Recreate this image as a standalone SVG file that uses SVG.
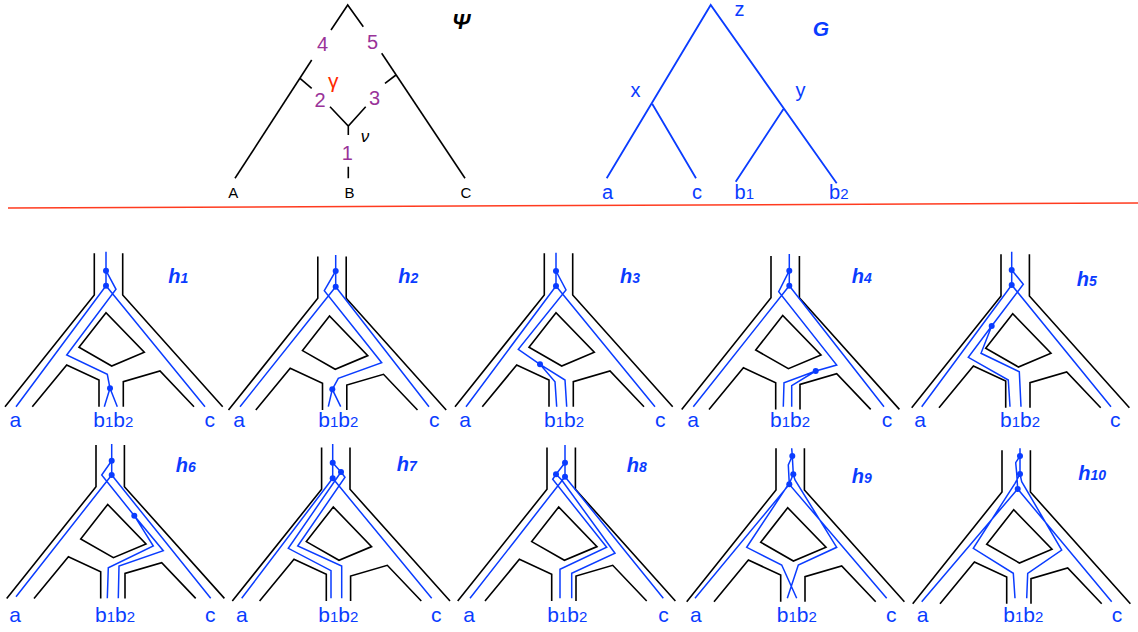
<svg xmlns="http://www.w3.org/2000/svg" xmlns:xlink="http://www.w3.org/1999/xlink" width="1138" height="632" viewBox="0 0 1138 632">
<style>
.k{stroke:#000;stroke-width:1.6;fill:none}
.b{stroke:#0a3cff;stroke-width:1.5;fill:none;stroke-linejoin:miter}
.bt{stroke:#0a3cff;stroke-width:1.8;fill:none}
.d{fill:#0a3cff}
.t{font-family:'Liberation Sans',Arial,sans-serif;fill:#0a3cff;font-size:21px}
.s{font-size:15px}
.h{font-family:'Liberation Sans',Arial,sans-serif;fill:#0a3cff;font-weight:bold;font-style:italic;font-size:20px}
.hs{font-size:14px}
.p{font-family:'Liberation Sans',Arial,sans-serif;fill:#993399;font-size:20px}
.n{font-family:'Liberation Sans',Arial,sans-serif;fill:#000;font-size:16px}
</style>
<defs>
<g id="net">
<path class="k" d="M94.3,253.3 V295 L5,406.7"/>
<path class="k" d="M122.7,253.3 V295 L222.7,406.7"/>
<path class="k" d="M32.3,406.7 L66.7,365 L99,380 V406.7"/>
<path class="k" d="M123.3,406.7 V381.7 L160,371 L194,406.7"/>
<path class="k" d="M106,312.7 L79,347.3 L111.7,366 L144.3,352.3 Z"/>
</g>
</defs>
<rect width="1138" height="632" fill="#fff"/>

<g id="psi">
<path class="k" d="M331,30 L347.7,5 L363.3,26.7"/>
<path class="k" d="M311.7,60 L235,178.3"/>
<path class="k" d="M381.7,53.3 L465,178.3"/>
<path class="k" d="M300,78.3 L311.7,88.3"/>
<path class="k" d="M396,75 L385,83.3"/>
<path class="k" d="M330,106.7 L348.3,126 L365.7,106.7 M348.3,126 V135 M348.3,166.7 V178.3"/>
<text class="p" x="322.5" y="50.7" text-anchor="middle">4</text>
<text class="p" x="372.5" y="49.3" text-anchor="middle">5</text>
<text class="p" x="333.3" y="88" text-anchor="middle" style="fill:#ff2a00;font-size:21px">γ</text>
<text class="p" x="320" y="107.3" text-anchor="middle">2</text>
<text class="p" x="374.5" y="105" text-anchor="middle">3</text>
<text class="p" x="347.2" y="160" text-anchor="middle">1</text>
<text class="n" x="365" y="141.7" text-anchor="middle" style="font-style:italic;font-size:17px">ν</text>
<text class="n" x="233.3" y="198" text-anchor="middle" style="font-size:15px">A</text>
<text class="n" x="349.5" y="198" text-anchor="middle" style="font-size:15px">B</text>
<text class="n" x="466" y="198" text-anchor="middle" style="font-size:15px">C</text>
<text class="n" x="461" y="29" text-anchor="middle" style="font-weight:bold;font-style:italic;font-size:22px">Ψ</text>
</g>

<g id="G">
<path class="bt" d="M606.7,178.3 L710.7,5 L836.7,183.3 M652.3,104 L696,178.3 M783.3,109.3 L735.7,181.7"/>
<text class="t" x="739.5" y="16" text-anchor="middle" style="font-size:20px">z</text>
<text class="t" x="635.5" y="97" text-anchor="middle" style="font-size:20px">x</text>
<text class="t" x="800.5" y="97" text-anchor="middle" style="font-size:20px">y</text>
<text class="h" x="821" y="36" text-anchor="middle" style="font-size:21px">G</text>
<text class="t" x="607.5" y="199" text-anchor="middle" style="font-size:20px">a</text>
<text class="t" x="697" y="199" text-anchor="middle" style="font-size:20px">c</text>
<text class="t" x="734.5" y="199" style="font-size:20px">b<tspan class="s">1</tspan></text>
<text class="t" x="829" y="199" style="font-size:20px">b<tspan class="s">2</tspan></text>
</g>

<line id="sep" x1="8" y1="208" x2="1138" y2="203" stroke="#ff3b1f" stroke-width="1.5"/>

<g id="h1">
<use xlink:href="#net" href="#net"/>
<path class="b" d="M106,251.7 V285.7 M106,270.7 L116,289.3 L66.7,355 L107.3,374.3 L110,388.3 M104.3,406.7 L110,388.3 L117.3,406.7 M16,406.7 L106,285.7 L205,406.7"/>
<circle class="d" cx="106" cy="270.7" r="3"/><circle class="d" cx="106" cy="285.7" r="3"/><circle class="d" cx="110" cy="388.3" r="3"/>
<text class="h" x="168.3" y="283">h<tspan class="hs">1</tspan></text>
<text class="t" x="9.5" y="427.3">a</text>
<text class="t" x="93.3" y="427.3">b<tspan class="s">1</tspan>b<tspan class="s">2</tspan></text>
<text class="t" x="204.5" y="427.3">c</text>
</g>

<g id="h2">
<use xlink:href="#net" href="#net" transform="translate(223.5,3.3)"/>
<path class="b" d="M335.7,255 V286.7 M335.7,271 L324.3,290.7 L381.7,362.7 L338.3,378.3 L332.3,389.3 M328.3,406.7 L332.3,389.3 L340.7,406.7 M240,406.7 L335.7,286.7 L429,406.7"/>
<circle class="d" cx="335.7" cy="271" r="3"/><circle class="d" cx="335.7" cy="286.7" r="3"/><circle class="d" cx="332.3" cy="389.3" r="3"/>
<text class="h" x="398.3" y="283">h<tspan class="hs">2</tspan></text>
<text class="t" x="233.3" y="427.3">a</text>
<text class="t" x="318.3" y="427.3">b<tspan class="s">1</tspan>b<tspan class="s">2</tspan></text>
<text class="t" x="429" y="427.3">c</text>
</g>

<g id="h3">
<use xlink:href="#net" href="#net" transform="translate(450,0)"/>
<path class="b" d="M556,252.7 V286 M556,271 L566,290 L518.3,349.3 L540,364.3 M556.7,406.7 L555,381.7 L540,364.3 L565,380 L566.7,406.7 M466,406.7 L556,286 L655,406.7"/>
<circle class="d" cx="556" cy="271" r="3"/><circle class="d" cx="556" cy="286" r="3"/><circle class="d" cx="540" cy="364.3" r="3"/>
<text class="h" x="620" y="283">h<tspan class="hs">3</tspan></text>
<text class="t" x="459.3" y="427.3">a</text>
<text class="t" x="544" y="427.3">b<tspan class="s">1</tspan>b<tspan class="s">2</tspan></text>
<text class="t" x="655" y="427.3">c</text>
</g>

<g id="h4">
<use xlink:href="#net" href="#net" transform="translate(676.7,2.7)"/>
<path class="b" d="M789.3,254 V285.7 M789.3,270.7 L778.7,291.7 L836.7,365 L815.7,371 M783.3,406.7 L784,382.7 L815.7,371 L791.7,385.7 L791.7,406.7 M693.3,406.7 L789.3,285.7 L884,406.7"/>
<circle class="d" cx="789.3" cy="270.7" r="3"/><circle class="d" cx="789.3" cy="285.7" r="3"/><circle class="d" cx="815.7" cy="371" r="3"/>
<text class="h" x="851.7" y="282.7">h<tspan class="hs">4</tspan></text>
<text class="t" x="687.3" y="427.3">a</text>
<text class="t" x="770" y="427.3">b<tspan class="s">1</tspan>b<tspan class="s">2</tspan></text>
<text class="t" x="881.7" y="427.3">c</text>
</g>

<g id="h5">
<use xlink:href="#net" href="#net" transform="translate(906.7,1)"/>
<path class="b" d="M1011.7,251.7 V285 M1011.7,270 L1023.3,284.3 L991.7,326 M1010,406.7 L1008.3,380 L968.3,357.3 L991.7,326 L981,353.3 L1019.3,371.7 L1021,406.7 M921.7,406.7 L1011.7,285 L1111,406.7"/>
<circle class="d" cx="1011.7" cy="270" r="3"/><circle class="d" cx="1011.7" cy="285" r="3"/><circle class="d" cx="991.7" cy="326" r="3"/>
<text class="h" x="1076.7" y="286">h<tspan class="hs">5</tspan></text>
<text class="t" x="914.3" y="427.3">a</text>
<text class="t" x="1000" y="427.3">b<tspan class="s">1</tspan>b<tspan class="s">2</tspan></text>
<text class="t" x="1110" y="427.3">c</text>
</g>

<g id="h6">
<use xlink:href="#net" href="#net" transform="translate(1.7,191.7)"/>
<path class="b" d="M111.7,444 V475 M111.7,460.7 L101.7,475 L134.3,515.7 M107.3,598.3 L108.3,567.7 L153.3,546 L134.3,515.7 L163.3,550.7 L119,566 L118.3,598.3 M16,596.7 L111.7,475 L210.7,598.3"/>
<circle class="d" cx="111.7" cy="460.7" r="3"/><circle class="d" cx="111.7" cy="475" r="3"/><circle class="d" cx="134.3" cy="515.7" r="3"/>
<text class="h" x="175.7" y="471.7">h<tspan class="hs">6</tspan></text>
<text class="t" x="9.3" y="621.7">a</text>
<text class="t" x="95" y="621.7">b<tspan class="s">1</tspan>b<tspan class="s">2</tspan></text>
<text class="t" x="205" y="621.7">c</text>
</g>

<g id="h7">
<use xlink:href="#net" href="#net" transform="translate(227.3,194.3)"/>
<path class="b" d="M332.7,444 V478.3 M332.7,462.7 L341,472 L288.3,548.3 L331,570.7 L331,598.3 M341,472 L345,477.3 L297.7,546 L341.7,566 L341.7,598.3 M241.7,598.3 L332.7,478.3 L431.7,598.3"/>
<circle class="d" cx="332.7" cy="462.7" r="3"/><circle class="d" cx="341" cy="472" r="3"/><circle class="d" cx="332.7" cy="478.3" r="3"/>
<text class="h" x="396.7" y="470.7">h<tspan class="hs">7</tspan></text>
<text class="t" x="236" y="621.7">a</text>
<text class="t" x="318.3" y="621.7">b<tspan class="s">1</tspan>b<tspan class="s">2</tspan></text>
<text class="t" x="431" y="621.7">c</text>
</g>

<g id="h8">
<use xlink:href="#net" href="#net" transform="translate(452.7,194.3)"/>
<path class="b" d="M565,445 V476.7 M565,462.7 L556,474.3 L552.7,479.3 L606.7,547.3 L560,569.3 L560,598.3 M556,474.3 L561.7,480 L615,553.3 L571.7,573.3 L571.7,598.3 M470,598.3 L565,476.7 L663.3,598.3"/>
<circle class="d" cx="565" cy="462.7" r="3"/><circle class="d" cx="556" cy="474.3" r="3"/><circle class="d" cx="565" cy="476.7" r="3"/>
<text class="h" x="626.7" y="471.7">h<tspan class="hs">8</tspan></text>
<text class="t" x="463.3" y="621.7">a</text>
<text class="t" x="547.3" y="621.7">b<tspan class="s">1</tspan>b<tspan class="s">2</tspan></text>
<text class="t" x="658.3" y="621.7">c</text>
</g>

<g id="h9">
<use xlink:href="#net" href="#net" transform="translate(681.7,195)"/>
<path class="b" d="M791.7,448.3 L792.3,456 L793.3,474.3 M792.3,456 L788.3,465 L789.3,484.3 M793.3,474.3 L795,480 L836.7,547.3 L798.3,565 L787.3,598.3 M793.3,474.3 L790,482 L746.7,547.3 L781.7,565 L796.7,598.3 M695,598.3 L789.3,484.3 L886.7,598.3"/>
<circle class="d" cx="792.3" cy="456" r="3"/><circle class="d" cx="793.3" cy="474.3" r="3"/><circle class="d" cx="789.3" cy="484.3" r="3"/>
<text class="h" x="851.7" y="483.3">h<tspan class="hs">9</tspan></text>
<text class="t" x="690" y="621.7">a</text>
<text class="t" x="776.7" y="621.7">b<tspan class="s">1</tspan>b<tspan class="s">2</tspan></text>
<text class="t" x="886" y="621.7">c</text>
</g>

<g id="h10">
<use xlink:href="#net" href="#net" transform="translate(907.7,197)"/>
<path class="b" d="M1020,448.3 V474 M1020,456 L1015.7,462.7 L1016.7,473.3 L1017.7,489 M1020,474 L1021.7,481.7 L1061.7,550 L1027.7,573.3 L1026.7,598.3 M1020,474 L1015,483.3 L973.3,548.3 L1013.3,573.3 L1015,598.3 M921.7,601.7 L1017.7,489 L1111.7,601.7"/>
<circle class="d" cx="1020" cy="456" r="3"/><circle class="d" cx="1020" cy="474" r="3"/><circle class="d" cx="1017.7" cy="489" r="3"/>
<text class="h" x="1078.3" y="480">h<tspan class="hs">10</tspan></text>
<text class="t" x="916.7" y="621.7">a</text>
<text class="t" x="1003.3" y="621.7">b<tspan class="s">1</tspan>b<tspan class="s">2</tspan></text>
<text class="t" x="1111.7" y="621.7">c</text>
</g>
</svg>
